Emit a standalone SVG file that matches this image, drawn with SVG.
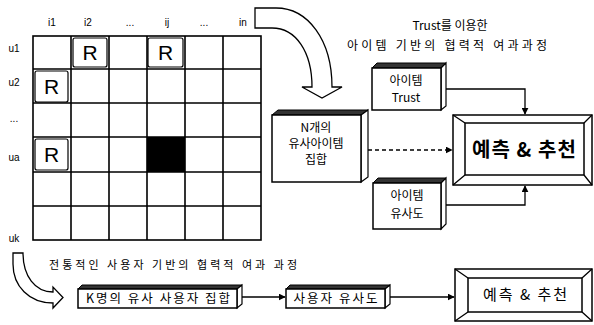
<svg xmlns="http://www.w3.org/2000/svg" width="594" height="325" viewBox="0 0 594 325">
<defs>
<style>
.lbl{font-family:"Liberation Sans",Arial,sans-serif;font-size:10px;fill:#000}
.kr{font-family:"Noto Sans CJK KR","Noto Sans",sans-serif;fill:#000}
.grid{stroke:#000;stroke-width:1.6;fill:none}
.rbox{fill:#fff;stroke:#000;stroke-width:1.2}
.rt{font-family:"Liberation Sans",Arial,sans-serif;font-size:21px;fill:#000}
.face{fill:#fff;stroke:#000;stroke-width:1.5}
.side{fill:#fff;stroke:#000;stroke-width:1.2}
.top{fill:#333;stroke:#000;stroke-width:1}
.bev{fill:#fff;stroke:#000;stroke-width:1.5}
.con{stroke:#000;stroke-width:1.3;fill:none}
.big{fill:#fff;stroke:#000;stroke-width:1.3}
</style>
<marker id="ah" viewBox="0 0 10 10" refX="9" refY="5" markerWidth="7" markerHeight="7" orient="auto" markerUnits="userSpaceOnUse">
<path d="M0,0 L10,5 L0,10 Z" fill="#000"/>
</marker>
</defs>

<g id="matrix">
<rect class="grid" x="33" y="36" width="228" height="204"/>
<path class="grid" d="M71,36V240 M109,36V240 M147,36V240 M185,36V240 M223,36V240 M33,69H261 M33,103H261 M33,137H261 M33,172H261 M33,206H261"/>
<rect x="147" y="137" width="38" height="35" fill="#000"/>
<rect class="rbox" x="73" y="38" width="34" height="29" rx="2"/>
<rect class="rbox" x="148" y="38" width="35" height="29" rx="2"/>
<rect class="rbox" x="35" y="71" width="33" height="31" rx="2"/>
<rect class="rbox" x="35" y="139" width="33" height="31" rx="2"/>
<text class="rt" x="90" y="60" text-anchor="middle">R</text>
<text class="rt" x="165.500" y="60" text-anchor="middle">R</text>
<text class="rt" x="51.500" y="94" text-anchor="middle">R</text>
<text class="rt" x="51.500" y="162" text-anchor="middle">R</text>
<g class="lbl" text-anchor="middle">
<text x="52" y="26">i1</text>
<text x="88" y="26">i2</text>
<text x="130" y="26">...</text>
<text x="167" y="26">ij</text>
<text x="204" y="26">...</text>
<text x="243" y="26">in</text>
<text x="14" y="52">u1</text>
<text x="14" y="86">u2</text>
<text x="14" y="122">...</text>
<text x="14" y="161">ua</text>
<text x="14" y="242">uk</text>
</g>
</g>

<g id="bigArrowTop">
<path class="big" d="M255,8 L276,8 C308,8 332,40 332,87 L342,87 L322,98 L302,87 L312,87 C312,52 296,28 272,28 L255,28 Z"/>
</g>
<g id="bigArrowBottom">
<path class="big" d="M13,253 L23,253 C23,276 35,292 53,292 L53,287 L63,297.500 L53,308 L53,303 C29,303 13,286 13,264 Z"/>
</g>

<g id="title-item">
<text class="kr" x="450" y="30" font-size="12" text-anchor="middle">Trust를 이용한</text>
<text class="kr" x="447" y="50" font-size="12" text-anchor="middle" textLength="200" lengthAdjust="spacing">아이템 기반의 협력적 여과과정</text>
</g>

<g id="itemTrust">
<polygon class="top" points="372,68 377,63 446,63 441,68"/>
<polygon class="side" points="441,68 446,63 446,106 441,110"/>
<rect class="face" x="372" y="68" width="69" height="42"/>
<text class="kr" x="406" y="85" font-size="12" text-anchor="middle">아이템</text>
<text class="kr" x="406" y="102" font-size="12" text-anchor="middle">Trust</text>
</g>

<g id="nItems">
<polygon class="top" points="272,115 278,110 368,110 361,115"/>
<polygon class="side" points="361,115 368,110 368,177 361,182"/>
<rect class="face" x="272" y="115" width="89" height="67"/>
<text class="kr" x="316" y="132" font-size="12" text-anchor="middle">N개의</text>
<text class="kr" x="316" y="148" font-size="12" text-anchor="middle">유사아이템</text>
<text class="kr" x="316" y="164" font-size="12" text-anchor="middle">집합</text>
</g>

<g id="itemSim">
<polygon class="top" points="373,183 378,178 446,178 441,183"/>
<polygon class="side" points="441,183 446,178 446,224 441,229"/>
<rect class="face" x="373" y="183" width="68" height="46"/>
<text class="kr" x="407" y="200" font-size="12" text-anchor="middle">아이템</text>
<text class="kr" x="407" y="218" font-size="12" text-anchor="middle">유사도</text>
</g>

<g id="predictTop">
<rect class="bev" x="453" y="115" width="139" height="70"/>
<rect class="bev" x="465" y="123" width="119" height="52"/>
<path class="con" d="M453,115 L465,123 M592,115 L584,123 M453,185 L465,175 M592,185 L584,175"/>
<text class="kr" x="524" y="157" font-size="20" text-anchor="middle" font-weight="bold" textLength="104" lengthAdjust="spacing">예측 &amp; 추천</text>
</g>

<g id="title-user">
<text class="kr" x="173" y="269" font-size="11" text-anchor="middle" textLength="248" lengthAdjust="spacing">전통적인 사용자 기반의 협력적 여과 과정</text>
</g>

<g id="kUsers">
<polygon class="top" points="78,289 82,285 242,285 237,289"/>
<polygon class="side" points="237,289 242,285 242,304 237,308"/>
<rect class="face" x="78" y="289" width="159" height="19"/>
<text class="kr" x="158" y="303" font-size="12.500" text-anchor="middle" textLength="144" lengthAdjust="spacing">K명의 유사 사용자 집합</text>
</g>

<g id="userSim">
<polygon class="top" points="286,289 290,285 390,285 385,289"/>
<polygon class="side" points="385,289 390,285 390,304 385,308"/>
<rect class="face" x="286" y="289" width="99" height="19"/>
<text class="kr" x="335.500" y="303" font-size="12.500" text-anchor="middle" textLength="84" lengthAdjust="spacing">사용자 유사도</text>
</g>

<g id="predictBottom">
<rect class="bev" x="455" y="269" width="137" height="52"/>
<rect class="bev" x="468" y="278" width="114" height="34"/>
<path class="con" d="M455,269 L468,278 M592,269 L582,278 M455,321 L468,312 M592,321 L582,312"/>
<text class="kr" x="525" y="300" font-size="15" text-anchor="middle" textLength="84" lengthAdjust="spacing">예측 &amp; 추천</text>
</g>

<g id="connectors">
<path class="con" d="M446,89 H525 V114" marker-end="url(#ah)"/>
<path class="con" d="M368,150 H452" stroke-dasharray="4,3" marker-end="url(#ah)"/>
<path class="con" d="M446,205 H525 V186" marker-end="url(#ah)"/>
<path class="con" d="M242,297 H285" marker-end="url(#ah)"/>
<path class="con" d="M390,297 H454" marker-end="url(#ah)"/>
</g>
</svg>
